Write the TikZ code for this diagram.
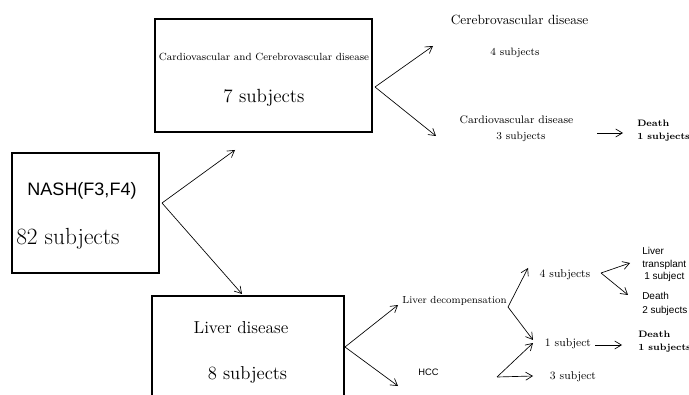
\documentclass[tikz,border=0pt]{standalone}
\usepackage{fontspec}
\newfontfamily\sansf{Liberation Sans}
\usetikzlibrary{arrows.meta}
\begin{document}
\begin{tikzpicture}[x=0.75pt,y=-0.75pt,
  box/.style={draw, line width=1.5pt, inner sep=0pt},
  conn/.style={line width=0.5pt, -{Straight Barb[length=5pt,width=6pt]}},
  lbl/.style={inner sep=0pt, align=center},
  lblw/.style={inner sep=0pt, anchor=west, align=left},
  heavy/.style={font=\bfseries\fontsize{7}{9.75}\selectfont}]
\useasboundingbox (0,0) rectangle (689,395);
% boxes
\node[box, minimum width=162.75pt, minimum height=84.75pt] (cc) at (263.5,75.5) {};
\node[box, minimum width=110.25pt, minimum height=90pt] (nash) at (85.5,213) {};
\node[box, minimum width=144pt, minimum height=93pt] (liver) at (248,358) {};
% box texts
\node[lbl, font=\fontsize{7.8}{9}\selectfont] (cctitle) at (264,57) {Cardiovascular and Cerebrovascular disease};
\node[lbl, font=\fontsize{14.3}{16}\selectfont] (ccn) at (264,98) {7 subjects};
\node[lbl, font=\sansf\fontsize{13.5}{16}\selectfont] (nashtitle) at (82,191) {NASH(F3,F4)};
\node[lblw, font=\fontsize{17.5}{20}\selectfont] (nashn) at (16,239) {82 subjects};
\node[lbl, font=\fontsize{13}{16}\selectfont] (livertitle) at (241,328) {Liver disease};
\node[lbl, font=\fontsize{14}{16}\selectfont] (livern) at (247.5,375) {8 subjects};
% right texts
\node[lbl, font=\fontsize{10}{12}\selectfont] (cereb) at (519.5,20) {Cerebrovascular disease};
\node[lbl, font=\fontsize{8}{10}\selectfont] (cerebn) at (515,53) {4 subjects};
\node[lbl, font=\fontsize{8.2}{10}\selectfont] (cardio) at (516.5,120) {Cardiovascular disease};
\node[lbl, font=\fontsize{8}{10}\selectfont] (cardion) at (521,137) {3 subjects};
\node[lblw, heavy] (death1) at (637,130.5) {Death\\1 subjects};
\node[lbl, font=\fontsize{7.7}{10}\selectfont] (decomp) at (454.5,301) {Liver decompensation};
\node[lbl, font=\sansf\fontsize{7}{9}\selectfont] (hcc) at (428.5,372) {HCC};
\node[lbl, font=\fontsize{8.5}{10}\selectfont] (four) at (565,275) {4 subjects};
\node[lbl, font=\fontsize{8.5}{10}\selectfont] (one) at (568,344) {1 subject};
\node[lbl, font=\fontsize{8.5}{10}\selectfont] (three) at (573,377) {3 subject};
\node[lblw, font=\sansf\fontsize{7.5}{9.4}\selectfont] (transp) at (642,264.5) {Liver\\transplant\\\hspace{1.5pt}1 subject};
\node[lblw, font=\sansf\fontsize{7.5}{10.5}\selectfont] (death2) at (642,304) {Death\\2 subjects};
\node[lblw, heavy] (death3) at (638,341.5) {Death\\1 subjects};
% connector points
\coordinate (v1) at (375,87);
\coordinate (e1a) at (433,46);
\coordinate (e1b) at (436,136);
\coordinate (v2) at (162,203);
\coordinate (e2a) at (235,150);
\coordinate (e2b) at (242,294);
\coordinate (v3) at (345,347);
\coordinate (e3a) at (398,305);
\coordinate (e3b) at (398,386);
\coordinate (v4) at (508,307);
\coordinate (e4a) at (528,268);
\coordinate (e4b) at (533,340);
\coordinate (v5) at (601,273);
\coordinate (e5a) at (630,263);
\coordinate (e5b) at (628,295);
\coordinate (s6) at (595,345);
\coordinate (e6) at (622,345);
\coordinate (v7) at (497,377);
\coordinate (e7a) at (533,343);
\coordinate (e7b) at (533,376);
\coordinate (s8) at (597,133);
\coordinate (e8) at (623,133);
% connectors
\draw[conn] (v1) -- (e1a);
\draw[conn] (v1) -- (e1b);
\draw[conn] (v2) -- (e2a);
\draw[conn] (v2) -- (e2b);
\draw[conn] (v3) -- (e3a);
\draw[conn] (v3) -- (e3b);
\draw[conn] (v4) -- (e4a);
\draw[conn] (v4) -- (e4b);
\draw[conn] (v5) -- (e5a);
\draw[conn] (v5) -- (e5b);
\draw[conn] (s6) -- (e6);
\draw[conn] (v7) -- (e7a);
\draw[conn] (v7) -- (e7b);
\draw[conn] (s8) -- (e8);
\end{tikzpicture}
\end{document}
